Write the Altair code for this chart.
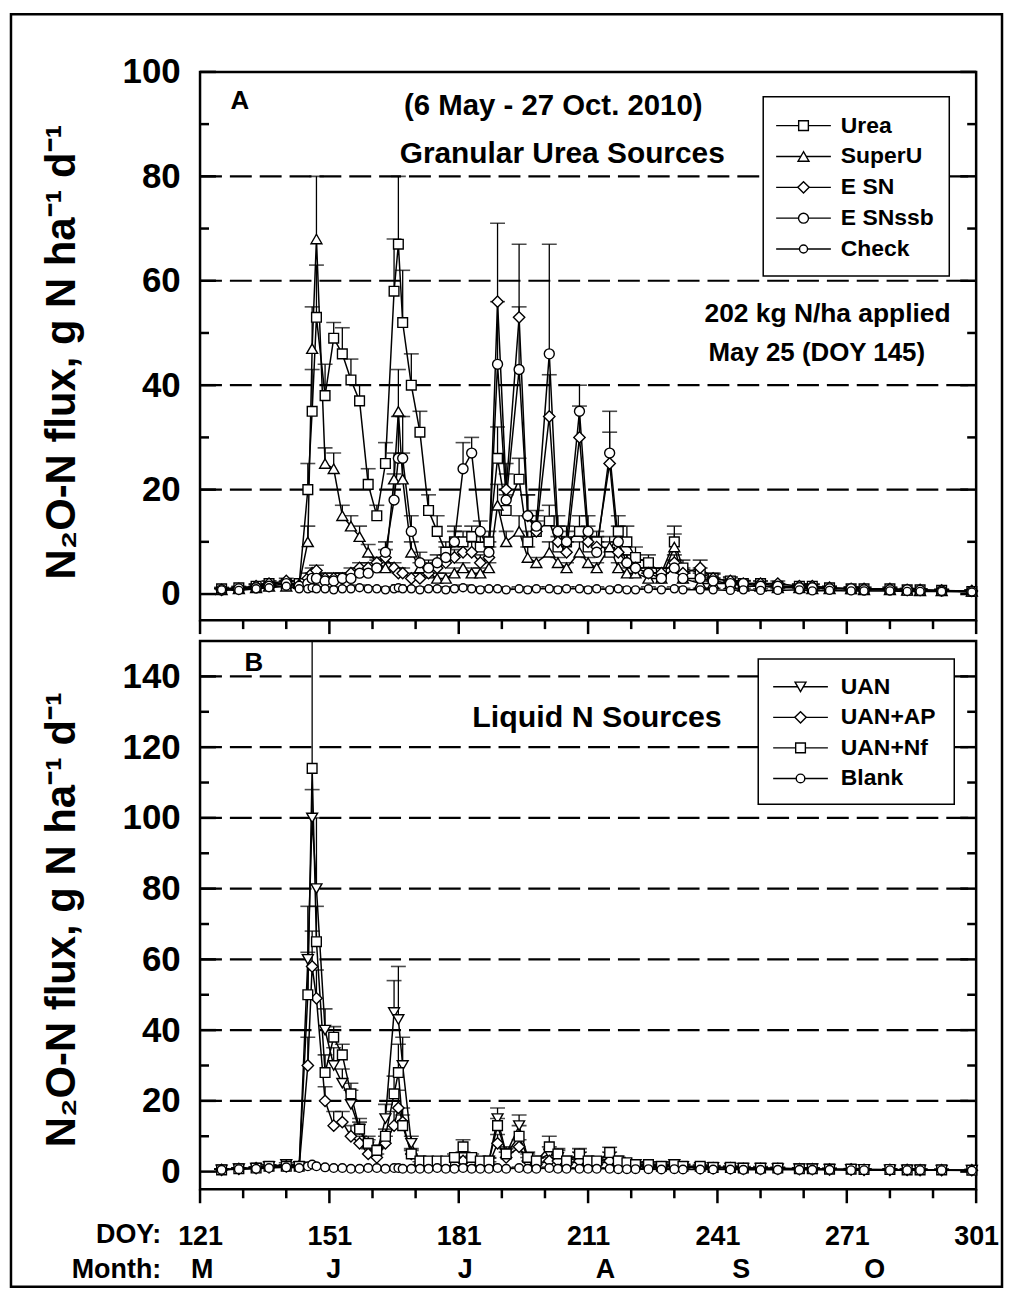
import altair as alt
import pandas as pd

W, H = 780, 551
X_MIN, X_MAX = 121, 301
FONT = "Liberation Sans"
NARROW = "Liberation Sans Narrow, Liberation Sans"

# ---------------- data ----------------
DOY = [126, 130, 134, 137, 141, 144, 146, 147, 148, 150,
       152, 154, 156, 158, 160, 162, 164, 166, 167, 168,
       170, 172, 174, 176, 178, 180, 182, 184, 186, 188,
       190, 192, 195, 197, 199, 202, 204, 206, 209, 211,
       213, 216, 218, 220, 222, 225, 228, 231, 233, 237,
       240, 244, 247, 251, 255, 260, 263, 267, 272, 275,
       281, 285, 288, 293, 300]

# Panel A - granular urea sources
UREA = [1.0, 1.2, 1.5, 2.0, 2.0, 2.0, 20, 35, 53, 38,
        49, 46, 41, 37, 21, 15, 25, 58, 67, 52,
        40, 31, 16, 12, 8, 10, 10, 11, 9, 10,
        26, 16, 22, 10, 12, 14, 9, 10, 12, 9,
        10, 8, 12, 10, 7, 6, 4, 10, 5, 4,
        3, 2.5, 2, 2, 1.5, 1.5, 1.5, 1.2, 1, 1,
        1, 0.8, 0.8, 0.7, 0.5]
UREA_SE = [0.3, 0.3, 0.4, 0.5, 0.5, 0.5, 5, 8, 10, 6,
           3, 5, 4, 3, 3, 2, 4, 10, 13, 10,
           6, 4, 3, 3, 2, 2, 2, 2, 2, 2,
           6, 3, 4, 2, 2, 3, 2, 2, 3, 2,
           2, 2, 3, 3, 2, 1.5, 1, 3, 1.5, 1,
           1, 0.8, 0.6, 0.5, 0.5, 0.4, 0.4, 0.3, 0.3, 0.3,
           0.3, 0.3, 0.2, 0.2, 0.2]
SUPERU = [0.8, 1.0, 1.2, 1.5, 1.5, 2.0, 10, 47, 68, 25,
          24, 15, 13, 11, 8, 6, 5, 22, 35, 22,
          8, 5, 4, 3, 3, 4, 5, 4, 4, 5,
          17, 10, 12, 7, 6, 8, 6, 5, 8, 6,
          5, 9, 5, 4, 4, 3, 3, 9, 3, 2,
          2, 2, 1.5, 1.5, 1.2, 1.2, 1, 1, 1, 0.8,
          0.8, 0.7, 0.6, 0.6, 0.5]
SUPERU_SE = [0.2, 0.3, 0.3, 0.4, 0.4, 0.5, 3, 8, 12, 3,
             3, 2, 2, 2, 1.5, 1, 1, 5, 8, 5,
             2, 1, 1, 1, 1, 1, 1, 1, 1, 1,
             4, 2, 3, 2, 1, 2, 1, 1, 2, 1,
             1, 2, 1, 1, 1, 1, 1, 2.5, 1, 0.5,
             0.5, 0.5, 0.4, 0.4, 0.3, 0.3, 0.3, 0.3, 0.3, 0.2,
             0.2, 0.2, 0.2, 0.2, 0.2]
ESN = [0.8, 1.0, 1.5, 2.0, 2.5, 1.5, 3, 4, 4.5, 3,
       3, 3, 4, 5, 5, 6, 7, 5, 4, 4,
       3, 3, 4, 5, 6, 7, 8, 8, 6, 7,
       56, 20, 53, 15, 12, 34, 10, 8, 30, 10,
       9, 25, 8, 6, 5, 4, 4, 6, 4, 5,
       3, 2.5, 2, 2, 2, 1.5, 1.5, 1.2, 1, 1,
       1, 0.8, 0.8, 0.7, 0.6]
ESN_SE = [0.3, 0.3, 0.4, 0.5, 0.5, 0.4, 1, 1, 1, 1,
          1, 1, 1, 1, 1, 1, 1.5, 1, 1, 1,
          1, 1, 1, 1, 1.5, 1.5, 2, 2, 1.5, 2,
          15, 5, 14, 4, 3, 8, 3, 2, 6, 3,
          2, 6, 2, 1.5, 1.5, 1, 1, 1.5, 1, 1.5,
          0.8, 0.6, 0.5, 0.5, 0.5, 0.4, 0.4, 0.3, 0.3, 0.3,
          0.3, 0.2, 0.2, 0.2, 0.2]
ESNSSB = [0.8, 1.0, 1.2, 1.5, 2.0, 1.5, 2, 3, 3, 2.5,
          2.5, 3, 3, 4, 4, 5, 8, 18, 26, 26,
          12, 6, 5, 6, 7, 10, 24, 27, 12, 8,
          44, 18, 43, 15, 13, 46, 12, 10, 35, 12,
          8, 27, 10, 6, 5, 4, 3, 5, 3, 3,
          2.5, 2, 2, 1.5, 1.5, 1.2, 1.2, 1, 1, 0.8,
          0.8, 0.8, 0.7, 0.6, 0.5]
ESNSSB_SE = [0.2, 0.3, 0.3, 0.4, 0.5, 0.4, 0.5, 1, 1, 0.8,
             0.8, 1, 1, 1, 1, 1.5, 2, 5, 8, 8,
             3, 2, 1.5, 1.5, 2, 3, 5, 3, 2, 2,
             12, 5, 12, 4, 3, 21, 3, 3, 5, 3,
             2, 8, 3, 1.5, 1.5, 1, 1, 1.5, 1, 1,
             0.6, 0.5, 0.5, 0.4, 0.4, 0.3, 0.3, 0.3, 0.3, 0.2,
             0.2, 0.2, 0.2, 0.2, 0.2]
CHECK = [0.8, 0.7, 1.0, 1.2, 1.5, 1.0, 1.0, 1.2, 1.0, 1.0,
         0.8, 1.0, 1.0, 1.2, 1.0, 1.0, 0.8, 1.0, 1.2, 1.0,
         1.0, 0.8, 1.0, 1.0, 0.8, 1.0, 1.2, 1.0, 0.8, 1.0,
         1.0, 0.8, 1.0, 0.8, 1.0, 1.0, 0.8, 1.0, 1.0, 0.8,
         1.0, 0.8, 1.0, 0.8, 0.8, 1.0, 0.8, 1.0, 0.8, 0.8,
         0.8, 0.7, 0.8, 0.7, 0.7, 0.8, 0.6, 0.7, 0.6, 0.6,
         0.6, 0.5, 0.5, 0.5, 0.4]
CHECK_SE = [0.3, 0.3, 0.4, 0.4, 0.5, 0.4, 0.4, 0.5, 0.4, 0.4,
            0.3, 0.4, 0.4, 0.5, 0.4, 0.4, 0.3, 0.4, 0.5, 0.4,
            0.4, 0.3, 0.4, 0.4, 0.3, 0.4, 0.5, 0.4, 0.3, 0.4,
            0.4, 0.3, 0.4, 0.3, 0.4, 0.4, 0.3, 0.4, 0.4, 0.3,
            0.4, 0.3, 0.4, 0.3, 0.3, 0.4, 0.3, 0.4, 0.3, 0.3,
            0.3, 0.3, 0.3, 0.3, 0.3, 0.3, 0.2, 0.3, 0.2, 0.2,
            0.2, 0.2, 0.2, 0.2, 0.2]

# Panel B - liquid N sources
UAN = [0.5, 0.8, 1.0, 1.5, 2.0, 1.5, 60, 100, 80, 40,
       30, 25, 19, 12, 7, 5, 15, 45, 43, 30,
       8, 3, 2, 2, 2, 3, 4, 3, 2, 3,
       15, 5, 13, 4, 3, 5, 4, 3, 4, 3,
       2.5, 4, 3, 2, 2, 1.5, 1.5, 2, 1.5, 1.2,
       1.2, 1, 1, 1, 0.8, 0.8, 0.8, 0.7, 0.6, 0.6,
       0.5, 0.5, 0.5, 0.4, 0.4]
UAN_SE = [0.2, 0.3, 0.3, 0.4, 0.5, 0.5, 15, 8, 20, 6,
          5, 4, 4, 3, 2, 1.5, 4, 9, 15, 8,
          2, 1, 0.8, 0.8, 0.8, 1, 1.5, 1, 0.8, 1,
          3, 2, 3, 1.5, 1, 2, 2, 1, 1.5, 1,
          1, 1.5, 1, 0.8, 0.8, 0.6, 0.6, 0.8, 0.6, 0.5,
          0.5, 0.4, 0.4, 0.4, 0.3, 0.3, 0.3, 0.3, 0.2, 0.2,
          0.2, 0.2, 0.2, 0.2, 0.2]
UAN_AP = [0.5, 0.8, 1.0, 1.2, 1.5, 1.5, 30, 58, 49, 20,
          13, 14, 10, 8, 5, 4, 8, 13, 18, 14,
          5, 2, 1.5, 1.5, 2, 2, 3, 2, 2, 2,
          8, 4, 7, 3, 2, 3, 3, 2, 3, 2,
          2, 3, 2, 1.5, 1.5, 1.2, 1.2, 1.5, 1.2, 1,
          1, 1, 0.8, 0.8, 0.8, 0.7, 0.7, 0.6, 0.6, 0.5,
          0.5, 0.5, 0.4, 0.4, 0.4]
UAN_AP_SE = [0.2, 0.3, 0.3, 0.3, 0.4, 0.4, 8, 10, 8, 4,
             4, 3, 3, 2, 1.5, 1, 2, 4, 5, 4,
             1.5, 0.8, 0.5, 0.5, 0.8, 0.8, 1, 0.8, 0.8, 0.8,
             2.5, 1.5, 2, 1, 0.8, 1, 1, 0.8, 1, 0.8,
             0.8, 1, 0.8, 0.6, 0.6, 0.5, 0.5, 0.6, 0.5, 0.4,
             0.4, 0.4, 0.3, 0.3, 0.3, 0.3, 0.3, 0.2, 0.2, 0.2,
             0.2, 0.2, 0.2, 0.2, 0.2]
UAN_NF = [0.5, 0.8, 1.0, 1.5, 1.5, 1.5, 50, 114, 65, 28,
          38, 33, 22, 12, 8, 6, 10, 22, 28, 13,
          5, 3, 3, 3, 3, 4, 7, 4, 3, 3,
          13, 5, 10, 4, 3, 7, 5, 3, 5, 3,
          3, 5.4, 3, 2.5, 2, 2, 1.5, 2, 1.5, 1.5,
          1.2, 1.2, 1, 1, 1, 0.8, 0.8, 0.7, 0.7, 0.6,
          0.6, 0.5, 0.5, 0.5, 0.4]
UAN_NF_SE = [0.2, 0.3, 0.3, 0.4, 0.4, 0.4, 12, 40, 10, 5,
             3, 3, 3, 2, 2, 1.5, 2, 5, 8, 3,
             1, 0.8, 0.8, 0.8, 0.8, 1, 2, 1, 0.8, 0.8,
             2, 1.5, 3, 1, 0.8, 3, 1.5, 1, 1.5, 1,
             1, 1.5, 1, 0.8, 0.6, 0.6, 0.5, 0.6, 0.5, 0.5,
             0.4, 0.4, 0.3, 0.3, 0.3, 0.3, 0.3, 0.2, 0.2, 0.2,
             0.2, 0.2, 0.2, 0.2, 0.2]
BLANK = [0.5, 0.7, 0.8, 1.0, 1.2, 1.0, 1.5, 2.0, 1.5, 1.2,
         1.0, 1.0, 0.8, 0.8, 1.0, 1.0, 0.8, 1.0, 1.0, 0.8,
         0.8, 0.8, 0.8, 1.0, 0.8, 0.8, 1.0, 0.8, 0.8, 0.8,
         1.0, 0.8, 1.0, 0.8, 0.8, 1.0, 0.8, 0.8, 0.8, 0.8,
         0.8, 0.8, 0.7, 0.7, 0.7, 0.7, 0.6, 0.7, 0.6, 0.6,
         0.6, 0.6, 0.5, 0.5, 0.5, 0.5, 0.5, 0.5, 0.4, 0.4,
         0.4, 0.4, 0.4, 0.4, 0.3]
BLANK_SE = [0.2, 0.3, 0.3, 0.3, 0.4, 0.3, 0.4, 0.5, 0.4, 0.3,
            0.3, 0.3, 0.3, 0.3, 0.3, 0.3, 0.3, 0.3, 0.3, 0.3,
            0.3, 0.3, 0.3, 0.3, 0.3, 0.3, 0.3, 0.3, 0.3, 0.3,
            0.3, 0.3, 0.3, 0.3, 0.3, 0.3, 0.3, 0.3, 0.3, 0.3,
            0.3, 0.3, 0.2, 0.2, 0.2, 0.2, 0.2, 0.2, 0.2, 0.2,
            0.2, 0.2, 0.2, 0.2, 0.2, 0.2, 0.2, 0.2, 0.2, 0.2,
            0.2, 0.2, 0.2, 0.2, 0.2]

A_LABELS = ["Urea", "SuperU", "E SN", "E SNssb", "Check"]
A_SHAPES = ["square", "triangle-up", "diamond", "circle", "circle"]
A_SIZES = [95, 120, 130, 100, 65]
A_VALUES = [UREA, SUPERU, ESN, ESNSSB, CHECK]
A_ERRORS = [UREA_SE, SUPERU_SE, ESN_SE, ESNSSB_SE, CHECK_SE]

B_LABELS = ["UAN", "UAN+AP", "UAN+Nf", "Blank"]
B_SHAPES = ["triangle-down", "diamond", "square", "circle"]
B_SIZES = [120, 130, 95, 75]
B_VALUES = [UAN, UAN_AP, UAN_NF, BLANK]
B_ERRORS = [UAN_SE, UAN_AP_SE, UAN_NF_SE, BLANK_SE]

DOY_MAJOR = [121, 151, 181, 211, 241, 271, 301]
DOY_MINOR = [131, 141, 161, 171, 191, 201, 221, 231, 251, 261, 281, 291]
MONTHS = ["M", "J", "J", "A", "S", "O"]
MONTH_POS = [121.5, 152, 182.5, 215, 246.5, 277.5]

A_Y_MAJOR = [0, 20, 40, 60, 80, 100]
A_Y_MINOR = [10, 30, 50, 70, 90]
A_GRID = [20, 40, 60, 80]
B_Y_MAJOR = [0, 20, 40, 60, 80, 100, 120, 140]
B_Y_MINOR = [10, 30, 50, 70, 90, 110, 130]
B_GRID = [20, 40, 60, 80, 100, 120, 140]

Y_TITLE = "N\u2082O-N flux, g N ha\u207b\u00b9 d\u207b\u00b9"


def text_layer(txt, x, y, size, align="center", font=FONT, angle=None):
    kw = dict(align=align, baseline="middle", fontSize=size, fontWeight="bold",
              font=font, color="black")
    if angle is not None:
        kw["angle"] = angle
    return alt.Chart(pd.DataFrame({"t": [txt]})).mark_text(**kw).encode(
        text="t:N", x=alt.value(x), y=alt.value(y))


def build_panel(labels, shapes, sizes, values, errors, ydom, y_major, y_minor,
                grid, legend, texts, bottom_labels, title_y, border=False):
    rows = []
    for name, shp, sz, vv, ee in zip(labels, shapes, sizes, values, errors):
        for d, v, e in zip(DOY, vv, ee):
            rows.append({"series": name, "doy": d, "v": v, "top": v + e,
                         "shape": shp, "sz": sz})
    df = pd.DataFrame(rows)

    xscale = alt.Scale(domain=[X_MIN, X_MAX], nice=False, zero=False)
    yscale = alt.Scale(domain=ydom, nice=False, zero=False)
    if bottom_labels:
        xaxis = alt.Axis(values=DOY_MAJOR, ticks=False, tickSize=0, domain=False,
                         grid=False, labelFont=NARROW, labelFontSize=27,
                         labelFontWeight="bold", labelColor="black",
                         labelPadding=34, labelFlush=False, labelOverlap=False,
                         title=None)
    else:
        xaxis = None
    yaxis = alt.Axis(values=y_major, ticks=False, tickSize=0, domain=False,
                     grid=False, labelFont=FONT, labelFontSize=35,
                     labelFontWeight="bold", labelColor="black", labelPadding=20,
                     labelFlush=False, labelOverlap=False, title=None)

    def X(f):
        return alt.X(f, type="quantitative", scale=xscale, axis=xaxis)

    def Y(f):
        return alt.Y(f, type="quantitative", scale=yscale, axis=yaxis)

    y0, y1 = ydom

    def px2x(px):
        return X_MIN + px * (X_MAX - X_MIN) / W

    def py2y(py):
        return y1 - py * (y1 - y0) / H

    layers = []
    if border:
        layers.append(alt.Chart(pd.DataFrame({"a": [0]})).mark_rect(
            fill="white", fillOpacity=0, stroke="black", strokeWidth=2.5).encode(
            x=alt.value(-190), x2=alt.value(806), y=alt.value(-58), y2=alt.value(1221)))

    # dashed reference lines
    layers.append(alt.Chart(pd.DataFrame({"g": grid})).mark_rule(
        color="black", strokeWidth=2.2, strokeDash=[22, 8]).encode(
        y=Y("g"), x=alt.value(0), x2=alt.value(W)))

    # y ticks (inward, both sides)
    for vals, ln in ((y_major, 16), (y_minor, 9)):
        tdf = pd.DataFrame({"t": vals})
        layers.append(alt.Chart(tdf).mark_rule(color="black", strokeWidth=2.5).encode(
            y=Y("t"), x=alt.value(0), x2=alt.value(ln)))
        layers.append(alt.Chart(tdf).mark_rule(color="black", strokeWidth=2.5).encode(
            y=Y("t"), x=alt.value(W - ln), x2=alt.value(W)))
    # x ticks (outward, bottom)
    for vals, ln in ((DOY_MAJOR, 14), (DOY_MINOR, 9)):
        layers.append(alt.Chart(pd.DataFrame({"d": vals})).mark_rule(
            color="black", strokeWidth=2.5).encode(
            x=X("d"), y=alt.value(H), y2=alt.value(H + ln)))

    # error bars
    layers.append(alt.Chart(df).mark_rule(color="black", strokeWidth=1.3, clip=True).encode(
        x=X("doy"), y=Y("v"), y2=alt.Y2("top")))
    layers.append(alt.Chart(df).mark_tick(color="black", orient="horizontal", size=15,
                                          thickness=1.6, clip=True).encode(
        x=X("doy"), y=Y("top")))
    # lines
    layers.append(alt.Chart(df).mark_line(color="black", strokeWidth=1.5).encode(
        x=X("doy"), y=Y("v"), detail="series:N"))
    # points
    layers.append(alt.Chart(df).mark_point(filled=True, fill="white", stroke="black",
                                           strokeWidth=1.4, opacity=1).encode(
        x=X("doy"), y=Y("v"), shape=alt.Shape("shape:N", scale=None),
        size=alt.Size("sz:Q", scale=None)))

    # legend
    bx0, by0, bx1, by1, row0, dy, l0, l1, lab = legend
    layers.append(alt.Chart(pd.DataFrame({"a": [0]})).mark_rect(
        fill="white", stroke="black", strokeWidth=1.5).encode(
        x=alt.value(bx0), x2=alt.value(bx1), y=alt.value(by0), y2=alt.value(by1)))
    ldf = pd.DataFrame({
        "label": labels, "shape": shapes, "sz": sizes,
        "ly": [py2y(row0 + i * dy) for i in range(len(labels))],
        "lx1": px2x(l0), "lx2": px2x(l1), "lxm": px2x((l0 + l1) / 2),
        "lxt": px2x(lab)})
    layers.append(alt.Chart(ldf).mark_rule(color="black", strokeWidth=1.4).encode(
        x=X("lx1"), x2=alt.X2("lx2"), y=Y("ly")))
    layers.append(alt.Chart(ldf).mark_point(filled=True, fill="white", stroke="black",
                                            strokeWidth=1.4, opacity=1).encode(
        x=X("lxm"), y=Y("ly"), shape=alt.Shape("shape:N", scale=None),
        size=alt.Size("sz:Q", scale=None)))
    layers.append(alt.Chart(ldf).mark_text(align="left", baseline="middle", font=NARROW,
                                           fontSize=23, fontWeight="bold",
                                           color="black").encode(
        x=X("lxt"), y=Y("ly"), text="label:N"))

    # texts
    for t in texts:
        layers.append(text_layer(*t))
    layers.append(text_layer(Y_TITLE, -139, title_y, 42, angle=270))

    if bottom_labels:
        layers.append(alt.Chart(pd.DataFrame({"m": MONTHS, "p": MONTH_POS})).mark_text(
            baseline="middle", font=NARROW, fontSize=27, fontWeight="bold",
            color="black").encode(x=X("p"), y=alt.value(H + 81), text="m:N"))
        layers.append(text_layer("DOY:", -39, H + 46, 27, align="right", font=NARROW))
        layers.append(text_layer("Month:", -39, H + 81, 27, align="right", font=NARROW))

    return alt.layer(*layers).properties(width=W, height=H)


panel_a = build_panel(
    A_LABELS, A_SHAPES, A_SIZES, A_VALUES, A_ERRORS, [-5, 100],
    A_Y_MAJOR, A_Y_MINOR, A_GRID,
    (566, 25, 753, 205, 54, 31, 579, 634, 644),
    [("A", 40, 29, 26), ("(6 May - 27 Oct. 2010)", 355, 34, 29.5),
     ("Granular Urea Sources", 364, 83, 30),
     ("202 kg N/ha applied", 507, 243, 26.5, "left"),
     ("May 25 (DOY 145)", 511, 283, 26, "left")],
    False, 281.5, border=True)

panel_b = build_panel(
    B_LABELS, B_SHAPES, B_SIZES, B_VALUES, B_ERRORS, [-5, 150],
    B_Y_MAJOR, B_Y_MINOR, B_GRID,
    (561, 18, 758, 164, 46, 30.7, 576, 631, 644),
    [("B", 54, 22, 26), ("Liquid N Sources", 399, 77, 30.5)],
    True, 280)

chart = alt.vconcat(panel_a, panel_b, spacing=21, bounds="flush").properties(
    padding=0, background="white"
).configure_view(stroke="black", strokeWidth=2.5)

chart.save("out.html", embed_options={"renderer": "svg", "actions": False})
